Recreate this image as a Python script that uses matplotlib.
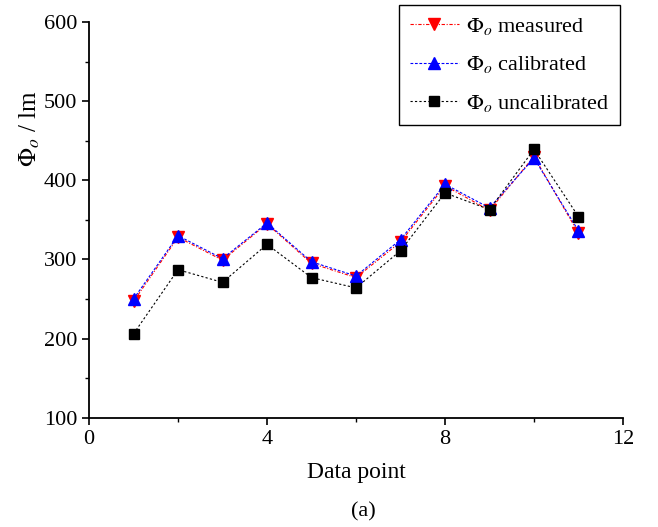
import matplotlib
matplotlib.use('Agg')
import matplotlib.pyplot as plt
from matplotlib.ticker import MultipleLocator

plt.rcParams['font.family'] = 'Liberation Serif'
plt.rcParams['mathtext.fontset'] = 'stix'

# luminous flux for each data point
points = [1, 2, 3, 4, 5, 6, 7, 8, 9, 10, 11]
measured = [247, 328, 299, 345, 295, 277, 322, 393, 362, 430, 333]
calibrated = [250, 330, 301, 346, 297, 279, 325, 395, 365, 428, 336]
uncalibrated = [206, 287, 271, 319, 277, 264, 311, 384, 363, 439, 354]

fig = plt.figure(figsize=(6.58, 5.27), dpi=100)
ax = fig.add_axes([0.1353, 0.2074, 0.8115, 0.7509])

ax.plot(points, measured, color='red', linestyle=(0, (3, 1.5, 1, 1.5)), linewidth=0.8,
        marker='v', markersize=9, label=r'$\Phi_o$ measured')
ax.plot(points, calibrated, color='blue', linestyle=(0, (2.5, 1.5)), linewidth=0.8,
        marker='^', markersize=9, label=r'$\Phi_o$ calibrated')
ax.plot(points, uncalibrated, color='black', linestyle=(0, (2, 2)), linewidth=0.8,
        marker='s', markersize=7, label=r'$\Phi_o$ uncalibrated')

ax.set_xlim(0, 12)
ax.set_ylim(100, 600)
ax.xaxis.set_major_locator(MultipleLocator(4))
ax.xaxis.set_minor_locator(MultipleLocator(2))
ax.yaxis.set_major_locator(MultipleLocator(100))
ax.yaxis.set_minor_locator(MultipleLocator(50))
ax.tick_params(which='major', direction='out', length=5, width=1.2, labelsize=16)
ax.tick_params(which='minor', direction='out', length=3, width=1.0)

ax.spines['top'].set_visible(False)
ax.spines['right'].set_visible(False)
ax.spines['left'].set_linewidth(1.3)
ax.spines['bottom'].set_linewidth(1.3)

ax.set_xlabel('Data point', fontsize=17, labelpad=10)
ax.set_ylabel(r'$\Phi_o$ / lm', fontsize=18)
ax.yaxis.set_label_coords(-0.088, 0.73)

leg = ax.legend(loc='upper right', bbox_to_anchor=(0.9422, 0.9905),
                bbox_transform=fig.transFigure, borderaxespad=0, fontsize=16,
                fancybox=False, edgecolor='black', framealpha=1, handlelength=2.2,
                handletextpad=0.3, borderpad=0.5, labelspacing=0.78)
leg.get_frame().set_linewidth(1.0)

fig.text(0.552, 0.028, '(a)', ha='center', va='center', fontsize=16)

fig.savefig('out.png', dpi=100)
